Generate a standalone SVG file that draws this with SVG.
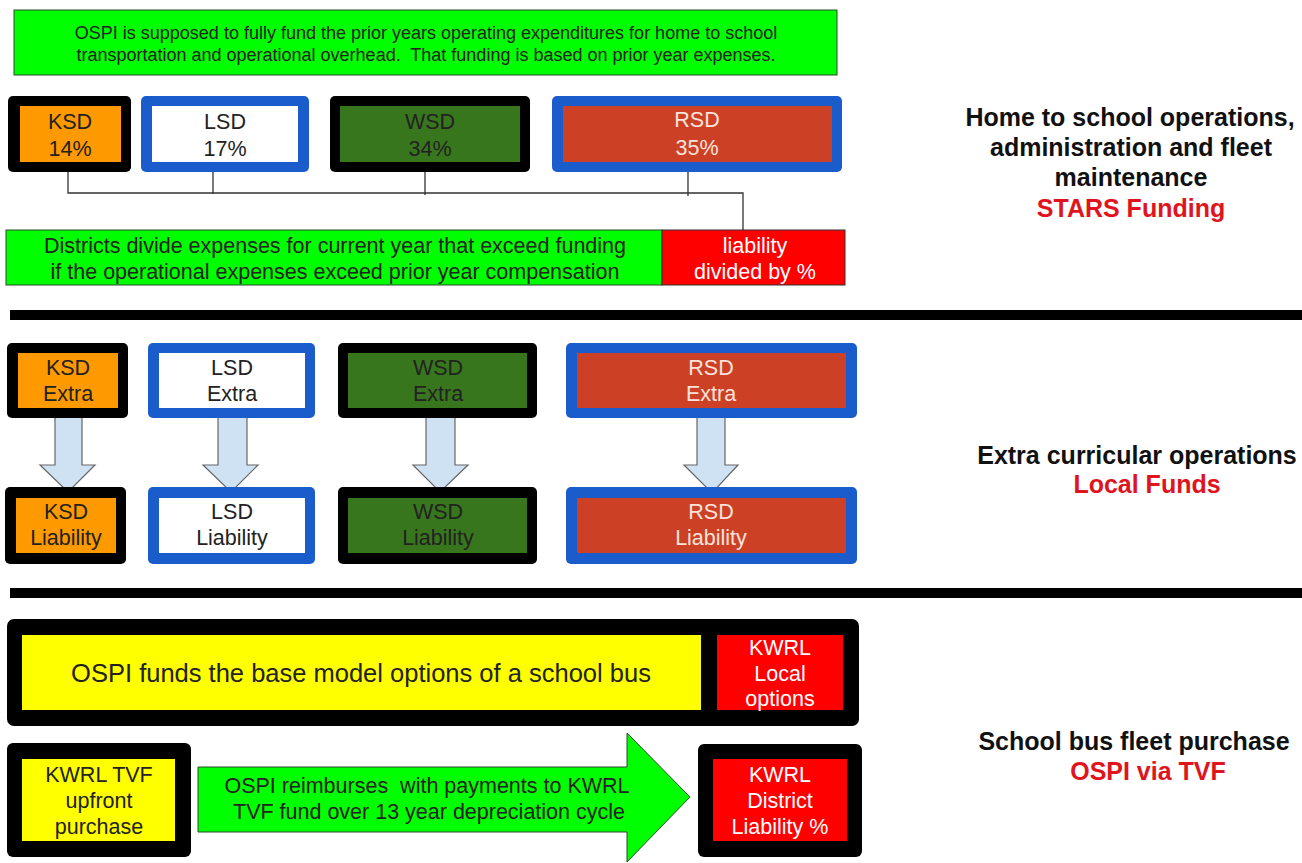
<svg xmlns="http://www.w3.org/2000/svg" width="1302" height="863" viewBox="0 0 1302 863">
<style>
text{font-family:"Liberation Sans",Arial,sans-serif;text-anchor:middle;dominant-baseline:central}
.t14{font-size:18px;fill:#222}
.t18{font-size:21.5px;fill:#222}
.w18{font-size:21.5px;fill:#fbe3dc}
.wt18{font-size:21.5px;fill:#fff}
.t22{font-size:25.5px;fill:#222}
.h{font-size:25px;font-weight:bold;fill:#111}
.hr{font-size:25px;font-weight:bold;fill:#e0141c}
.blk{fill:#000}
.blu{fill:#1a5ccc}
.org{fill:#ff9900}
.wht{fill:#fff}
.grn{fill:#38761d}
.rsd{fill:#cc4125}
.lime{fill:#00ff00;stroke:#2a4a2a;stroke-width:1}
.red{fill:#ff0000;stroke:#333;stroke-width:1}
.yel{fill:#ffff00}
.ar{fill:#cfe2f3;stroke:#666;stroke-width:1.2}
.ln{fill:none;stroke:#333;stroke-width:1.3}
.sep{fill:#000}
</style>

<g id="top-note">
<rect class="lime" x="14" y="10" width="823" height="65"/>
<text class="t14" x="426" y="33">OSPI is supposed to fully fund the prior years operating expenditures for home to school</text>
<text class="t14" x="426" y="55" xml:space="preserve">transportation and operational overhead.  That funding is based on prior year expenses.</text>
</g>

<g id="ksd-pct">
<rect class="blk" x="8" y="96" width="123" height="76" rx="5"/>
<rect class="org" x="20" y="106" width="101" height="56"/>
<text class="t18" x="70" y="122">KSD</text><text class="t18" x="70" y="149">14%</text>
</g>
<g id="lsd-pct">
<rect class="blu" x="141" y="96" width="168" height="76" rx="5"/>
<rect class="wht" x="152" y="106" width="146" height="56"/>
<text class="t18" x="225" y="122">LSD</text><text class="t18" x="225" y="149">17%</text>
</g>
<g id="wsd-pct">
<rect class="blk" x="330" y="96" width="200" height="76" rx="5"/>
<rect class="grn" x="340" y="106" width="180" height="56"/>
<text class="t18" x="430" y="122">WSD</text><text class="t18" x="430" y="149">34%</text>
</g>
<g id="rsd-pct">
<rect class="blu" x="552" y="96" width="290" height="76" rx="5"/>
<rect class="rsd" x="563" y="106" width="269" height="56"/>
<text class="w18" x="697" y="120">RSD</text><text class="w18" x="697" y="148">35%</text>
</g>

<g id="connectors">
<path class="ln" d="M68 172V193H743V230M213 172V194M425 172V195M688 172V196"/>
<path class="ar" d="M55 417H82V465H95L68 492L40 465H55Z"/>
<path class="ar" d="M218 417H247V465H258L231 492L203 465H218Z"/>
<path class="ar" d="M426 417H455V465H468L440 492L413 465H426Z"/>
<path class="ar" d="M697 417H725V465H738L712 493L684 465H697Z"/>
</g>

<g id="districts-divide">
<rect class="lime" x="6" y="230" width="656" height="55"/>
<text class="t18" x="335" y="246">Districts divide expenses for current year that exceed funding</text>
<text class="t18" x="335" y="272">if the operational expenses exceed prior year compensation</text>
</g>
<g id="liability-divided">
<rect class="red" x="662" y="230" width="183" height="55"/>
<text class="wt18" x="755" y="246">liability</text>
<text class="wt18" x="755" y="272">divided by %</text>
</g>

<g id="separators">
<rect class="sep" x="10" y="310" width="1292" height="10"/>
<rect class="sep" x="10" y="588" width="1292" height="10"/>
</g>

<g id="ksd-extra">
<rect class="blk" x="7" y="343" width="121" height="75" rx="5"/>
<rect class="org" x="18" y="353" width="100" height="55"/>
<text class="t18" x="68" y="368">KSD</text><text class="t18" x="68" y="394">Extra</text>
</g>
<g id="lsd-extra">
<rect class="blu" x="148" y="343" width="167" height="75" rx="5"/>
<rect class="wht" x="159" y="353" width="146" height="55"/>
<text class="t18" x="232" y="368">LSD</text><text class="t18" x="232" y="394">Extra</text>
</g>
<g id="wsd-extra">
<rect class="blk" x="338" y="343" width="199" height="75" rx="5"/>
<rect class="grn" x="348" y="353" width="179" height="55"/>
<text class="t18" x="438" y="368">WSD</text><text class="t18" x="438" y="394">Extra</text>
</g>
<g id="rsd-extra">
<rect class="blu" x="566" y="343" width="291" height="75" rx="5"/>
<rect class="rsd" x="577" y="353" width="269" height="55"/>
<text class="w18" x="711" y="368">RSD</text><text class="w18" x="711" y="394">Extra</text>
</g>

<g id="ksd-liability">
<rect class="blk" x="5" y="487" width="121" height="77" rx="5"/>
<rect class="org" x="16" y="498" width="100" height="55"/>
<text class="t18" x="66" y="512">KSD</text><text class="t18" x="66" y="538">Liability</text>
</g>
<g id="lsd-liability">
<rect class="blu" x="148" y="487" width="167" height="77" rx="5"/>
<rect class="wht" x="159" y="498" width="146" height="55"/>
<text class="t18" x="232" y="512">LSD</text><text class="t18" x="232" y="538">Liability</text>
</g>
<g id="wsd-liability">
<rect class="blk" x="338" y="487" width="199" height="77" rx="5"/>
<rect class="grn" x="348" y="498" width="179" height="55"/>
<text class="t18" x="438" y="512">WSD</text><text class="t18" x="438" y="538">Liability</text>
</g>
<g id="rsd-liability">
<rect class="blu" x="566" y="487" width="291" height="77" rx="5"/>
<rect class="rsd" x="577" y="498" width="269" height="55"/>
<text class="w18" x="711" y="512">RSD</text><text class="w18" x="711" y="538">Liability</text>
</g>

<g id="ospi-base">
<rect class="blk" x="7" y="619" width="852" height="107" rx="7"/>
<rect class="yel" x="22" y="635" width="679" height="75"/>
<text class="t22" x="361" y="673">OSPI funds the base model options of a school bus</text>
</g>
<g id="kwrl-local">
<rect fill="#ff0000" x="717" y="635" width="126" height="75"/>
<text class="wt18" x="780" y="648">KWRL</text><text class="wt18" x="780" y="674">Local</text><text class="wt18" x="780" y="699">options</text>
</g>

<g id="kwrl-tvf">
<rect class="blk" x="7" y="743" width="184" height="114" rx="6"/>
<rect class="yel" x="22" y="759" width="153" height="82"/>
<text class="t18" x="99" y="775">KWRL TVF</text><text class="t18" x="99" y="801">upfront</text><text class="t18" x="99" y="827">purchase</text>
</g>
<g id="ospi-reimburses">
<path fill="#00ff00" stroke="#2a4a2a" stroke-width="1" d="M198 767H627V733L690 797L627 862V832H198Z"/>
<text class="t18" x="427" y="786" xml:space="preserve">OSPI reimburses  with payments to KWRL</text>
<text class="t18" x="429" y="812">TVF fund over 13 year depreciation cycle</text>
</g>
<g id="kwrl-district">
<rect class="blk" x="698" y="744" width="164" height="113" rx="6"/>
<rect fill="#ff0000" x="713" y="759" width="134" height="82"/>
<text class="wt18" x="780" y="775">KWRL</text><text class="wt18" x="780" y="801">District</text><text class="wt18" x="780" y="827">Liability %</text>
</g>

<g id="label-stars">
<text class="h" x="1130" y="117">Home to school operations,</text>
<text class="h" x="1131" y="147">administration and fleet</text>
<text class="h" x="1131" y="177">maintenance</text>
<text class="hr" x="1131" y="208">STARS Funding</text>
</g>
<g id="label-local">
<text class="h" x="1137" y="455">Extra curricular operations</text>
<text class="hr" x="1147" y="484">Local Funds</text>
</g>
<g id="label-tvf">
<text class="h" x="1134" y="741">School bus fleet purchase</text>
<text class="hr" x="1148" y="771">OSPI via TVF</text>
</g>
</svg>
